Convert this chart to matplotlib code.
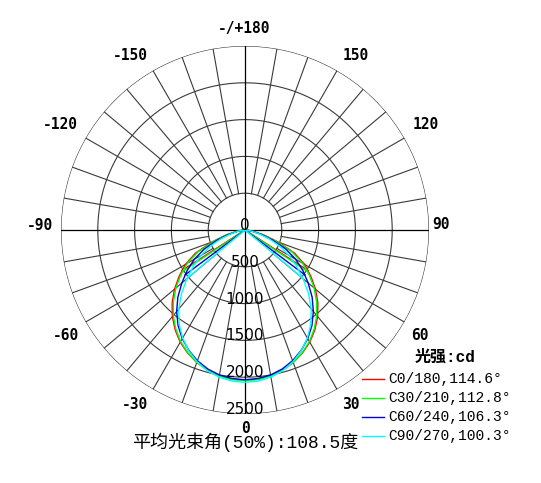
import numpy as np
import matplotlib
matplotlib.use("Agg")
import matplotlib.pyplot as plt
from matplotlib.lines import Line2D

# gamma angles (deg) and intensities (cd), 0..90 in 5 deg steps
gamma = [0, 5, 10, 15, 20, 25, 30, 35, 40, 45, 50, 55, 60, 65, 70, 75, 80, 85, 90]
c0 = [2040, 2035, 2010, 1970, 1915, 1845, 1760, 1655, 1535, 1400, 1250, 1090, 935, 740, 480, 270, 120, 35, 0]
c30 = [2045, 2040, 2015, 1975, 1915, 1840, 1750, 1640, 1515, 1375, 1225, 1065, 905, 705, 455, 255, 115, 35, 0]
c60 = [2035, 2025, 2000, 1955, 1890, 1805, 1705, 1585, 1445, 1290, 1120, 960, 795, 610, 400, 225, 100, 30, 0]
c90 = [2070, 2060, 2030, 1980, 1905, 1810, 1695, 1560, 1400, 1220, 1030, 855, 690, 520, 345, 195, 90, 25, 0]

series_names = ["C0/180,114.6°", "C30/210,112.8°", "C60/240,106.3°", "C90/270,100.3°"]
series_colors = ["#ff0000", "#00ff00", "#0000dd", "#00ffff"]
beam_angles = [114.6, 112.8, 106.3, 100.3]
series_values = [c0, c30, c60, c90]

ring_values = [500, 1000, 1500, 2000, 2500]
angle_labels = ["-/+180", "150", "120", "90", "60", "30", "0", "-30", "-60", "-90", "-120", "-150"]
title_text = "平均光束角(50%):108.5度"

W, H = 541, 483
fig = plt.figure(figsize=(W / 100, H / 100), dpi=100)
cx, cy, R = 245, 230, 184
ax = fig.add_axes([(cx - R) / W, (H - cy - R) / H, 2 * R / W, 2 * R / H], projection="polar")
ax.set_theta_zero_location("S")
ax.set_theta_direction(1)
ax.set_rlim(0, 2500)
ax.grid(False)
ax.set_xticks([])
ax.set_yticks([])
ax.spines["polar"].set_visible(False)

grid_c = "#3a3a3a"
full = np.linspace(0, 2 * np.pi, 361)
for rv in ring_values:
    ax.plot(full, [rv] * len(full), color=grid_c, lw=0.8)
for a in range(-170, 190, 10):
    if a % 90 == 0:
        ax.plot([np.radians(a)] * 2, [0, 2500], color="black", lw=0.9)
    else:
        ax.plot([np.radians(a)] * 2, [500, 2500], color=grid_c, lw=0.8)

# curves, mirrored to both sides
g = np.array(gamma, dtype=float)
for vals, col, beam in zip(series_values, series_colors, beam_angles):
    v = np.array(vals, dtype=float)
    th = np.radians(np.concatenate([-g[::-1], g[1:]]))
    rr = np.concatenate([v[::-1], v[1:]])
    ax.plot(th, rr, color=col, lw=1.0)
    half = np.radians(beam / 2)
    for s in (-1, 1):
        ax.plot([s * half, s * half], [0, v[0] / 2], color=col, lw=1.0)

# ring labels
ax.text(0, 0, "0", ha="center", va="baseline", fontsize=11, family="DejaVu Sans")
for rv in ring_values:
    ax.text(0, rv, str(rv), ha="center", va="baseline", fontsize=11, family="DejaVu Sans")


def fx(x):
    return x / W


def fy(y):
    return 1 - y / H


# angle labels (pixel positions around the rim)
label_pos = [(244.5, 29), (356, 56), (425.5, 124.5), (441, 224), (420.3, 335.7),
             (350.8, 404.5), (246, 428.3), (135.3, 404.5), (66, 335.7),
             (39.7, 225.3), (60.5, 124.5), (130, 55.5)]
for lab, (px, py) in zip(angle_labels, label_pos):
    fig.text(fx(px), fy(py), lab, ha="center", va="center", fontsize=10.5,
             family="DejaVu Sans Mono", weight="bold")

# legend drawn by hand
fig.text(fx(445), fy(357), "光强:cd", ha="center", va="center", fontsize=11.5,
         family=["Liberation Mono", "Noto Sans CJK SC"], weight="bold")
rows = [379, 398, 417, 436]
for name, col, yy in zip(series_names, series_colors, rows):
    fig.add_artist(Line2D([fx(362), fx(384)], [fy(yy), fy(yy)], color=col, lw=1.0))
    fig.text(fx(388), fy(yy), name, ha="left", va="center", fontsize=10.5,
             family="Liberation Mono")

fig.text(fx(245), fy(442), title_text, ha="center", va="center", fontsize=13,
         family=["Liberation Mono", "Noto Sans CJK SC"])

fig.savefig("out.png", dpi=100, facecolor="white")
